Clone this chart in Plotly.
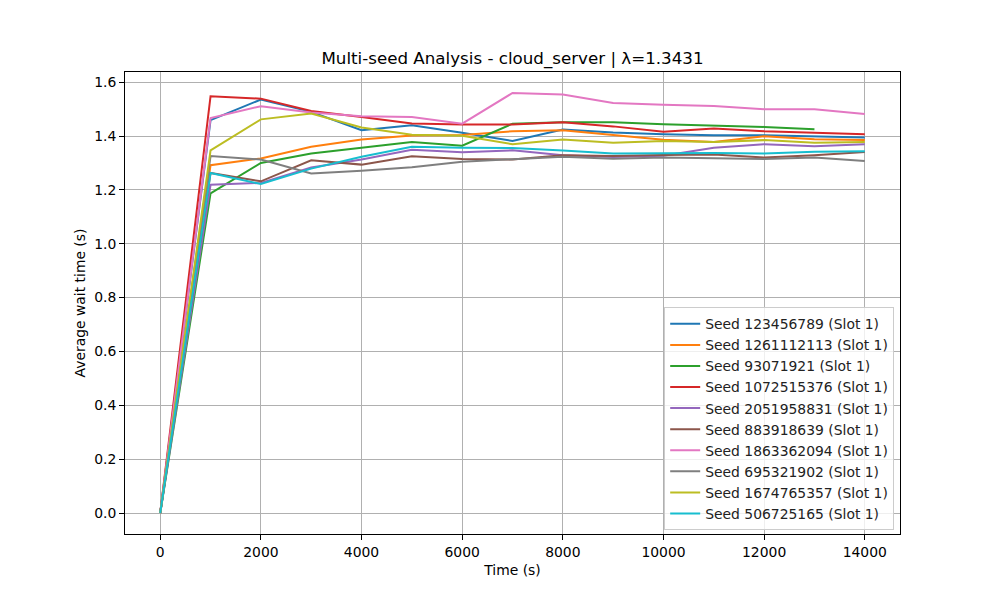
import plotly.graph_objects as go

times = [0, 1000, 2000, 3000, 4000, 5000, 6000, 7000, 8000, 9000, 10000, 11000, 12000, 13000, 14000]

seed_labels = [
    "Seed 123456789 (Slot 1)",
    "Seed 1261112113 (Slot 1)",
    "Seed 93071921 (Slot 1)",
    "Seed 1072515376 (Slot 1)",
    "Seed 2051958831 (Slot 1)",
    "Seed 883918639 (Slot 1)",
    "Seed 1863362094 (Slot 1)",
    "Seed 695321902 (Slot 1)",
    "Seed 1674765357 (Slot 1)",
    "Seed 506725165 (Slot 1)",
]

s_123456789 = [0.0, 1.459, 1.536, 1.490, 1.422, 1.440, 1.412, 1.382, 1.424, 1.413, 1.407, 1.403, 1.403, 1.399, 1.395]
s_1261112113 = [0.0, 1.292, 1.317, 1.360, 1.387, 1.402, 1.404, 1.418, 1.422, 1.405, 1.386, 1.378, 1.399, 1.388, 1.385]
s_93071921 = [0.0, 1.187, 1.300, 1.335, 1.357, 1.378, 1.364, 1.446, 1.451, 1.451, 1.444, 1.439, 1.434, 1.425]
s_1072515376 = [0.0, 1.548, 1.539, 1.493, 1.471, 1.447, 1.443, 1.443, 1.451, 1.436, 1.416, 1.428, 1.418, 1.412, 1.407]
s_2051958831 = [0.0, 1.219, 1.226, 1.283, 1.313, 1.349, 1.340, 1.347, 1.329, 1.322, 1.327, 1.357, 1.370, 1.362, 1.370]
s_883918639 = [0.0, 1.263, 1.232, 1.310, 1.294, 1.325, 1.315, 1.313, 1.329, 1.326, 1.330, 1.332, 1.320, 1.329, 1.341]
s_1863362094 = [0.0, 1.467, 1.511, 1.488, 1.474, 1.471, 1.446, 1.560, 1.554, 1.523, 1.516, 1.512, 1.500, 1.500, 1.482]
s_695321902 = [0.0, 1.326, 1.313, 1.261, 1.271, 1.284, 1.305, 1.313, 1.323, 1.316, 1.320, 1.318, 1.315, 1.320, 1.307]
s_1674765357 = [0.0, 1.347, 1.462, 1.484, 1.432, 1.405, 1.401, 1.370, 1.387, 1.375, 1.382, 1.378, 1.385, 1.375, 1.378]
s_506725165 = [0.0, 1.263, 1.222, 1.279, 1.323, 1.360, 1.357, 1.356, 1.346, 1.335, 1.336, 1.337, 1.335, 1.342, 1.344]

series = [s_123456789, s_1261112113, s_93071921, s_1072515376, s_2051958831,
          s_883918639, s_1863362094, s_695321902, s_1674765357, s_506725165]

colors = ["#1f77b4", "#ff7f0e", "#2ca02c", "#d62728", "#9467bd",
          "#8c564b", "#e377c2", "#7f7f7f", "#bcbd22", "#17becf"]

title_text = "Multi-seed Analysis - cloud_server | λ=1.3431"
x_label = "Time (s)"
y_label = "Average wait time (s)"
x_ticks = [0, 2000, 4000, 6000, 8000, 10000, 12000, 14000]
y_ticks = [0.0, 0.2, 0.4, 0.6, 0.8, 1.0, 1.2, 1.4, 1.6]

FONT = "DejaVu Sans"

fig = go.Figure()
for label, vals, col in zip(seed_labels, series, colors):
    fig.add_trace(go.Scatter(
        x=times[:len(vals)], y=vals, mode="lines", name=label,
        line=dict(color=col, width=2),
    ))

all_x = [t for vals in series for t in times[:len(vals)]]
all_y = [v for vals in series for v in vals]
xmin, xmax = min(all_x), max(all_x)
ymin, ymax = min(all_y), max(all_y)
xpad = (xmax - xmin) * 0.05
ypad = (ymax - ymin) * 0.05

axis_common = dict(
    showgrid=True, gridcolor="#b0b0b0", gridwidth=1,
    showline=True, linecolor="black", linewidth=1, mirror=True,
    ticks="outside", ticklen=5, tickwidth=1, tickcolor="black",
    zeroline=False,
    tickfont=dict(family=FONT, size=13.9, color="black"),
)

fig.update_layout(
    width=1000, height=600,
    margin=dict(l=125, r=100, t=72, b=66),
    paper_bgcolor="white", plot_bgcolor="white",
    title=dict(text=title_text, x=0.5125, xanchor="center", y=0.893, yanchor="bottom",
               font=dict(family=FONT, size=16.7, color="black")),
    font=dict(family=FONT, color="black"),
    xaxis=dict(range=[xmin - xpad, xmax + xpad], tickvals=x_ticks,
               ticktext=[str(v) for v in x_ticks],
               title=dict(text=x_label, font=dict(family=FONT, size=13.9), standoff=6),
               **axis_common),
    yaxis=dict(range=[ymin - ypad, ymax + ypad], tickvals=y_ticks,
               ticktext=[f"{v:.1f}" for v in y_ticks],
               title=dict(text=y_label, font=dict(family=FONT, size=13.9), standoff=5),
               **axis_common),
    legend=dict(x=0.9925, xanchor="right", y=0.008, yanchor="bottom",
                bgcolor="rgba(255,255,255,0.8)", bordercolor="#cccccc", borderwidth=1,
                font=dict(family=FONT, size=13.9, color="#222222"),
                tracegroupgap=0, itemwidth=30),
    showlegend=True,
)

fig.write_html("out.html")
